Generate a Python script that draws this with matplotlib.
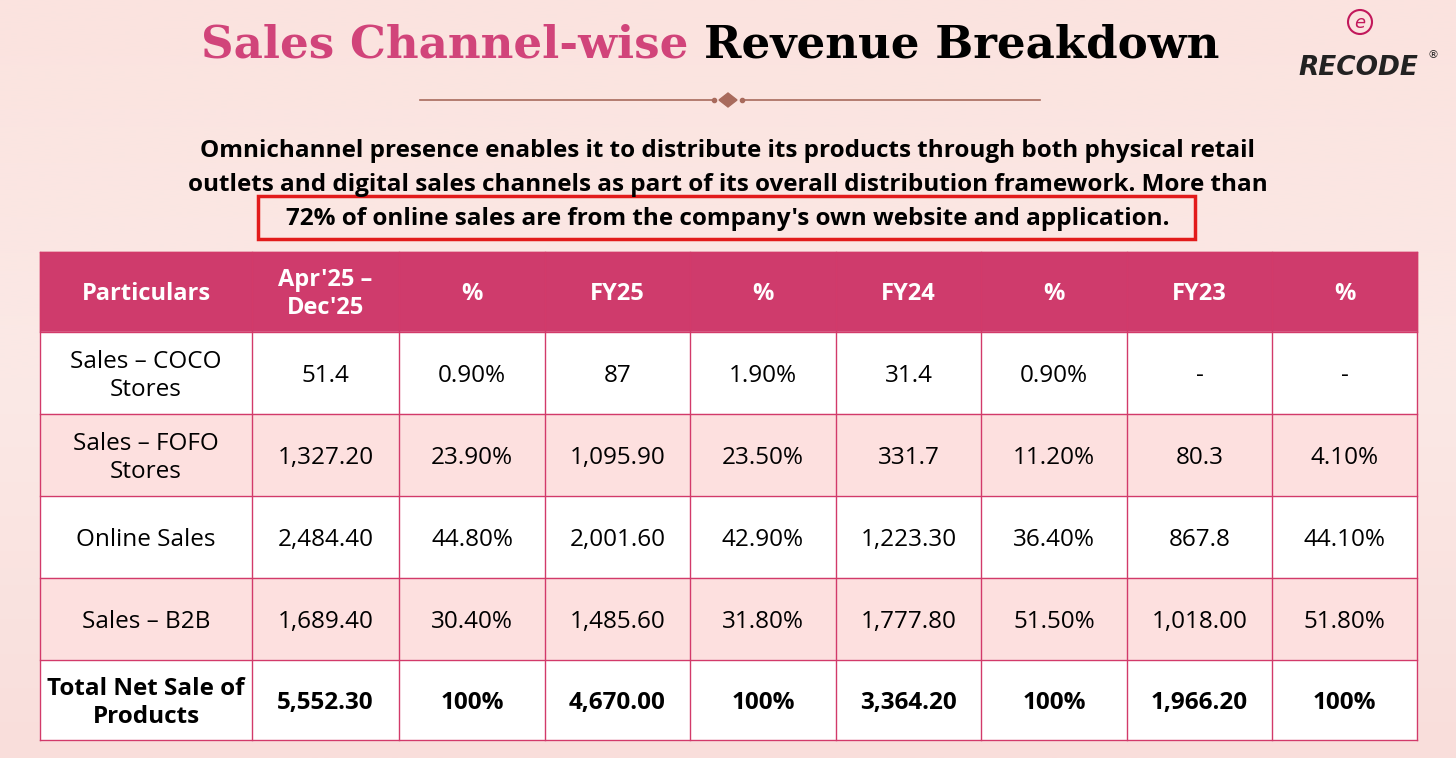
import matplotlib
matplotlib.use("Agg")
import matplotlib.pyplot as plt
import numpy as np
from matplotlib.patches import Rectangle, Polygon
from matplotlib.colors import LinearSegmentedColormap

headers = ["Particulars", "Apr'25 –\nDec'25", "%", "FY25", "%", "FY24", "%", "FY23", "%"]
rows = ["Sales – COCO\nStores", "Sales – FOFO\nStores", "Online Sales", "Sales – B2B", "Total Net Sale of\nProducts"]
apr_dec25 = ["51.4", "1,327.20", "2,484.40", "1,689.40", "5,552.30"]
apr_dec25_pct = ["0.90%", "23.90%", "44.80%", "30.40%", "100%"]
fy25 = ["87", "1,095.90", "2,001.60", "1,485.60", "4,670.00"]
fy25_pct = ["1.90%", "23.50%", "42.90%", "31.80%", "100%"]
fy24 = ["31.4", "331.7", "1,223.30", "1,777.80", "3,364.20"]
fy24_pct = ["0.90%", "11.20%", "36.40%", "51.50%", "100%"]
fy23 = ["-", "80.3", "867.8", "1,018.00", "1,966.20"]
fy23_pct = ["-", "4.10%", "44.10%", "51.80%", "100%"]

W, H = 1456, 758
fig = plt.figure(figsize=(W/100, H/100), dpi=100)
ax = fig.add_axes([0, 0, 1, 1])
ax.set_xlim(0, W); ax.set_ylim(H, 0); ax.axis("off")

grad = np.linspace(0, 1, 256)[:, None]
cm = LinearSegmentedColormap.from_list("bg", ["#fbe3df", "#fbe9e6", "#f9dedb"])
ax.imshow(grad, extent=[0, W, H, 0], cmap=cm, aspect="auto", zorder=0)

pink = "#d1447a"
t1 = ax.text(0, 0, "Sales Channel-wise ", fontsize=32.5, fontweight="bold", family="DejaVu Serif", color=pink, va="center")
t2 = ax.text(0, 0, "Revenue Breakdown", fontsize=32.5, fontweight="bold", family="DejaVu Serif", color="black", va="center")
fig.canvas.draw()
r = fig.canvas.get_renderer()
w1 = t1.get_window_extent(r).width; w2 = t2.get_window_extent(r).width
x0 = 710 - (w1 + w2) / 2
t1.set_position((x0, 45)); t2.set_position((x0 + w1, 45))

brown = "#a86a5c"
ax.plot([420, 715], [100, 100], color=brown, lw=1.2)
ax.plot([741, 1040], [100, 100], color=brown, lw=1.2)
ax.add_patch(Polygon([[719, 100], [728, 93], [737, 100], [728, 107]], color=brown))
ax.plot([714, 742], [100, 100], "o", color=brown, ms=3)

ax.add_patch(plt.Circle((1360, 22), 12, fill=False, color="#c2185b", lw=1.5))
ax.text(1360, 23, "e", fontsize=13, ha="center", va="center", color="#c2185b", style="italic")
ax.text(1358, 68, "RECODE", fontsize=19, fontweight="bold", style="italic", ha="center", va="center", color="#222222", family="DejaVu Sans")
ax.text(1433, 55, "®", fontsize=8, ha="center", va="center", color="#222222")

sub = ["Omnichannel presence enables it to distribute its products through both physical retail",
       "outlets and digital sales channels as part of its overall distribution framework. More than",
       "72% of online sales are from the company's own website and application."]
for i, s in enumerate(sub):
    ax.text(728, 151 + i * 34, s, fontsize=17.5, fontweight="bold", family="Open Sans", ha="center", va="center", color="black")
ax.add_patch(Rectangle((258, 196), 937, 43, fill=False, ec="#e21b1b", lw=2.5))

xs = [40, 252, 399, 545, 690, 836, 981, 1127, 1272, 1417]
ys = [252, 332, 414, 496, 578, 660, 740]
hdr = "#cf3b6c"; line = "#d23a6a"
cols = [apr_dec25, apr_dec25_pct, fy25, fy25_pct, fy24, fy24_pct, fy23, fy23_pct]
ax.add_patch(Rectangle((xs[0], ys[0]), xs[-1] - xs[0], ys[1] - ys[0], color=hdr, zorder=1))
for j, h in enumerate(headers):
    ax.text((xs[j] + xs[j+1]) / 2, (ys[0] + ys[1]) / 2 + 2, h, fontsize=17, fontweight="bold", family="Open Sans",
            color="white", ha="center", va="center", linespacing=1.25, zorder=3)
for i, rl in enumerate(rows):
    y0, y1 = ys[i+1], ys[i+2]
    fc = "#fde0df" if i in (1, 3) else "white"
    ax.add_patch(Rectangle((xs[0], y0), xs[-1] - xs[0], y1 - y0, color=fc, zorder=1))
    bold = (i == len(rows) - 1)
    fw = "bold" if bold else "normal"
    yc = (y0 + y1) / 2 + 3
    ax.text((xs[0] + xs[1]) / 2, yc, rl, fontsize=17.5, fontweight=fw, family="Open Sans", ha="center", va="center",
            linespacing=1.25, zorder=3, color="black")
    for j, c in enumerate(cols):
        ax.text((xs[j+1] + xs[j+2]) / 2, yc, c[i], fontsize=17.5, fontweight=fw, family="Open Sans", ha="center",
                va="center", zorder=3, color="black")
for y in ys[1:]:
    ax.plot([xs[0], xs[-1]], [y, y], color=line, lw=1, zorder=2)
for x in xs:
    ax.plot([x, x], [ys[0], ys[-1]], color=line, lw=1, zorder=2)
ax.plot([xs[0], xs[-1]], [ys[0], ys[0]], color=line, lw=1, zorder=2)

fig.savefig("out.png", dpi=100)
